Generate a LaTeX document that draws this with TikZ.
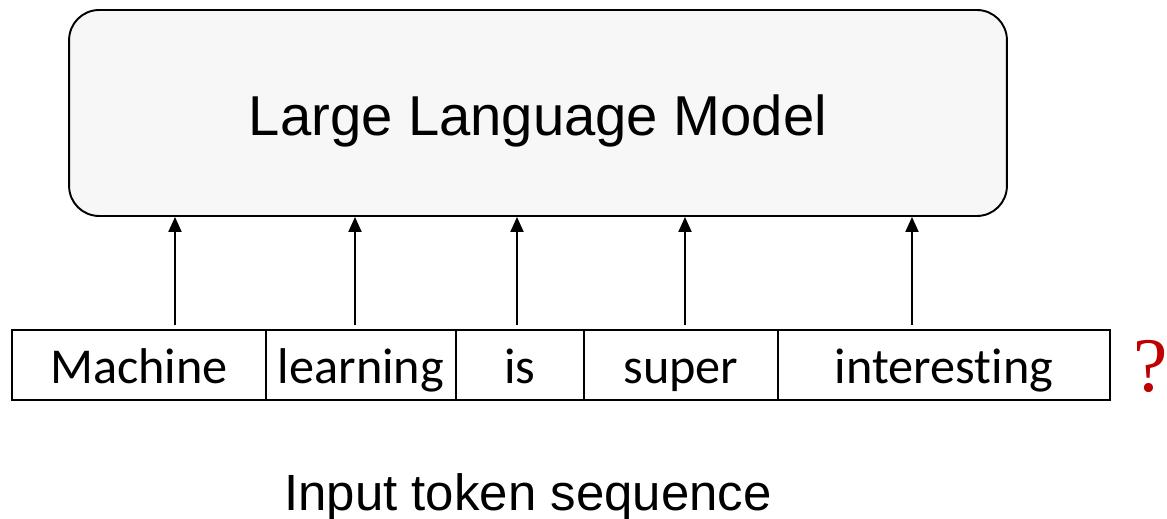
\documentclass[tikz,border=0pt]{standalone}
\usepackage{fontspec}
\setmainfont{Liberation Sans}
\newfontfamily\tokfont[Ligatures={NoCommon,NoContextual}]{Carlito}
\newfontfamily\qfont{Liberation Serif}
\usetikzlibrary{arrows.meta}
\definecolor{boxfill}{HTML}{F7F7F7}
\definecolor{qred}{HTML}{C00000}
\begin{document}
\begin{tikzpicture}[x=0.02cm,y=-0.02cm,
  llmbox/.style={draw,line width=1.1pt,fill=boxfill,rounded corners=0.6cm,inner sep=0pt,
     minimum width=18.76cm,minimum height=4.12cm,font=\fontsize{32}{38}\selectfont,
     text height=25.2pt,text depth=0pt},
  tok/.style={draw,line width=1.4pt,inner sep=0pt,minimum height=1.4cm,
     font=\tokfont\fontsize{28.6}{34}\selectfont,text height=20.7pt,text depth=0pt},
  arr/.style={line width=1.1pt,-{Triangle[width=0.26cm,length=0.3cm]}}]
\useasboundingbox (0,0) rectangle (1167,519);
\node[llmbox] (llm) at (538,113) {Large Language Model};
\node[tok,minimum width=5.08cm] (t1) at (139,365) {Machine};
\node[tok,minimum width=3.8cm] (t2) at (361,365) {learning};
\node[tok,minimum width=2.56cm] (t3) at (520,365) {is};
\node[tok,minimum width=3.88cm] (t4) at (681,365) {super};
\node[tok,minimum width=6.64cm] (t5) at (944,365) {interesting};
\coordinate (a1) at (175,0);
\coordinate (a2) at (355,0);
\coordinate (a3) at (517,0);
\coordinate (a4) at (685,0);
\coordinate (a5) at (912,0);
\foreach \i in {1,...,5}{
  \draw[arr] ([yshift=0.08cm]t\i.north -| a\i) -- (llm.south -| a\i);
}
\node[text=qred,font=\qfont\fontsize{44}{50}\selectfont,inner sep=0pt] (q) at (1151,366) {?};
\node[font=\fontsize{29}{34}\selectfont,inner sep=0pt,text height=20.8pt,text depth=0pt] (lbl) at (528,492.5) {Input token sequence};
\end{tikzpicture}
\end{document}
